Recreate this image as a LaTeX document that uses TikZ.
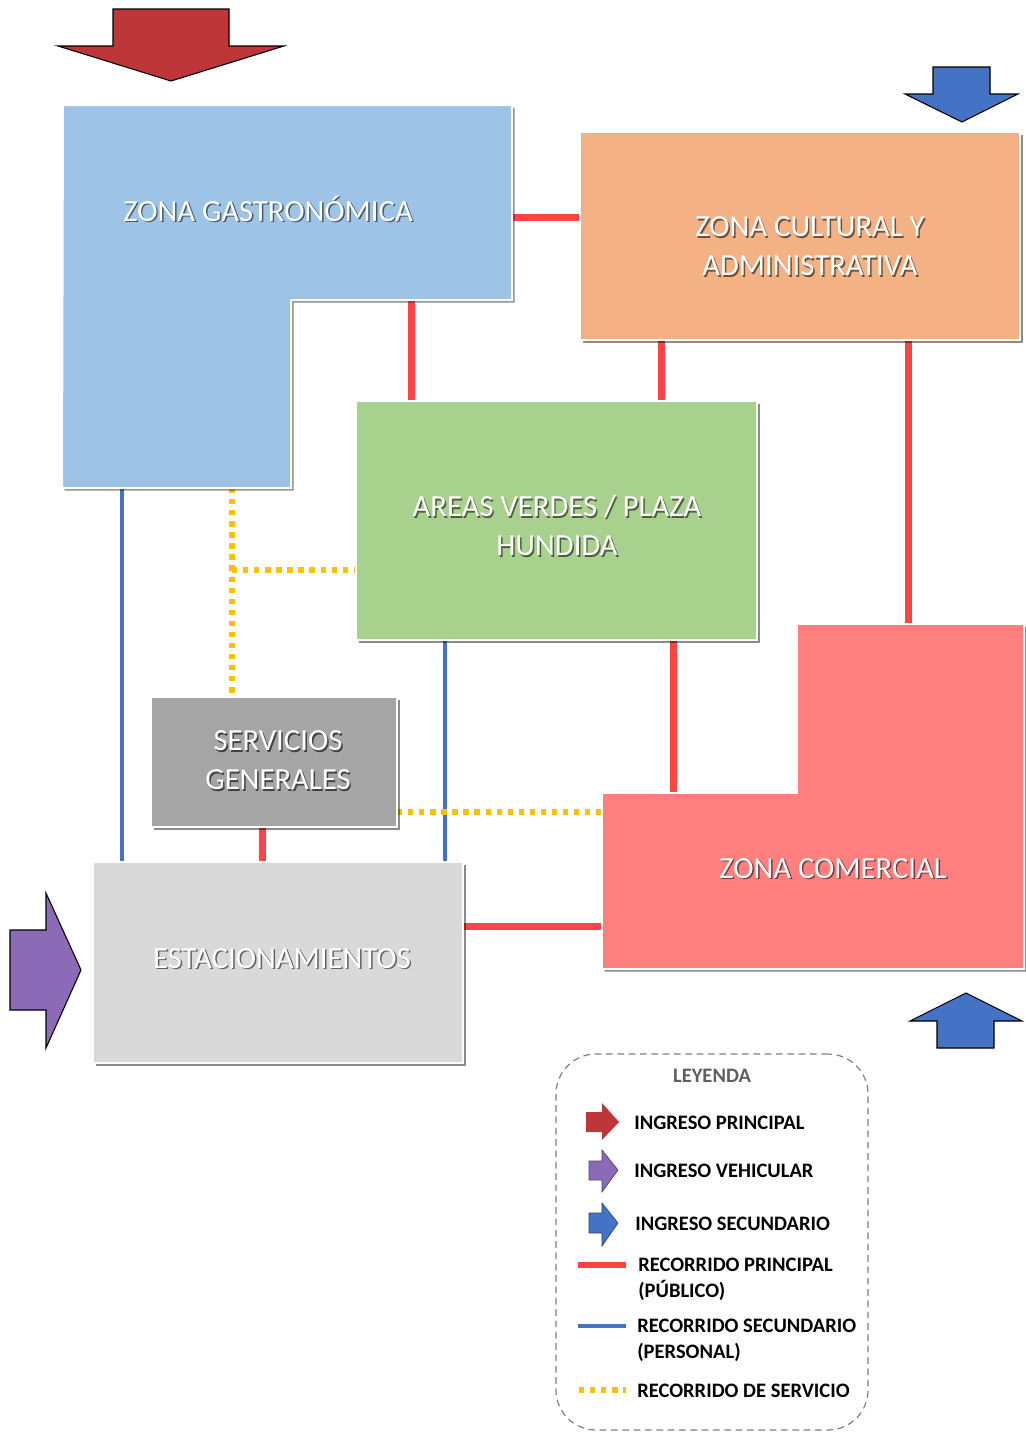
\documentclass[tikz,border=0pt]{standalone}
\usepackage{fontspec}
\setmainfont{Carlito}
\usetikzlibrary{shadows,calc,fit}
\pgfdeclarelayer{bg}
\pgfsetlayers{bg,main}
\definecolor{cGas}{HTML}{9DC3E6}
\definecolor{cCul}{HTML}{F4B183}
\definecolor{cVer}{HTML}{A9D18E}
\definecolor{cSer}{HTML}{A5A5A5}
\definecolor{cEst}{HTML}{D9D9D9}
\definecolor{cCom}{HTML}{FF7F7F}
\definecolor{cRedA}{HTML}{BE3638}
\definecolor{cBlueA}{HTML}{4472C4}
\definecolor{cPur}{HTML}{8B6BB8}
\definecolor{cRedL}{HTML}{FF4343}
\definecolor{cBlueL}{HTML}{4472C4}
\definecolor{cYel}{HTML}{FFC000}
\definecolor{cLegT}{HTML}{5F5F5F}
\newcommand\shtx[2]{\makebox[0pt][l]{\kern1.1pt\raisebox{-1.3pt}{\textcolor{#1}{#2}}}#2}
\begin{document}
\begin{tikzpicture}[x=0.75pt,y=-0.75pt,
  zone/.style={draw=white, line width=1.5pt,
    drop shadow={shadow xshift=2pt, shadow yshift=-2pt, opacity=0.45, fill=black}},
  zbox/.style={zone, rectangle, inner sep=0pt, outer sep=0pt},
  zt/.style={text=white, font=\fontsize{23}{29.25}\selectfont, align=center, inner sep=0pt},
  rl/.style={draw=cRedL, line width=5.25pt},
  bl/.style={draw=cBlueL, line width=3pt},
  yl/.style={draw=cYel, line width=4pt, dash pattern=on 4pt off 4.3pt},
  barrow/.style={draw=black, line width=0.8pt},
  legt/.style={font=\bfseries\fontsize{15.4}{19.5}\selectfont, text=black, align=left, inner sep=0pt, anchor=north west},
  legbox/.style={draw=black!50, dash pattern=on 5pt off 3.5pt, line width=0.9pt, rounded corners=30pt, inner sep=0pt, outer sep=0pt}
]
\useasboundingbox (0,0) rectangle (1025,1439);
\begin{pgfonlayer}{bg}
\fill[white] (0,0) rectangle (1025,1439);
\end{pgfonlayer}

% ---- entrance arrows
\path[barrow, fill=cRedA] (113,9) -- (229,9) -- (229,46) -- (284,46) -- (171,81) -- (58,46) -- (113,46) -- cycle;
\path[barrow, fill=cBlueA] (933,67) -- (990,67) -- (990,94) -- (1018,94) -- (962,122) -- (905,94) -- (933,94) -- cycle;
\path[barrow, fill=cBlueA] (966,993) -- (1022,1021) -- (994,1021) -- (994,1048) -- (937,1048) -- (937,1021) -- (910,1021) -- cycle;
\path[barrow, fill=cPur] (10,930) -- (46,930) -- (46,893) -- (81,970) -- (46,1048) -- (46,1010) -- (10,1010) -- cycle;

% ---- zones
\path[zone, fill=cGas] (63,105) -- (512,105) -- (512,300) -- (291,300) -- (291,488) -- (62,488) -- cycle;
\coordinate (gE) at (512,217);
\coordinate (gB1) at (411,300);
\coordinate (gB2) at (122,488);
\coordinate (gB3) at (232,488);
\coordinate (yj) at (232,570);

\node[zbox, fill=cCul, fit={(580,132) (1020,340)}] (cult) {};
\node[zbox, fill=cVer, fit={(356,401) (757,640)}] (areas) {};
\node[zbox, fill=cSer, fit={(151,697) (397,827)}] (serv) {};
\node[zbox, fill=cEst, fit={(93,862) (463,1063)}] (estac) {};

\path[zone, fill=cCom] (797,624) -- (1024,624) -- (1024,969) -- (602,969) -- (602,793) -- (797,793) -- cycle;
\coordinate (cT1) at (908,624);
\coordinate (cT2) at (673,793);
\coordinate (cW1) at (602,926);
\coordinate (cW2) at (602,812);

% ---- zone labels
\node[zt, anchor=base] (tGas) at (268,221) {\shtx{cGas!45!black}{ZONA GASTRONÓMICA}};
\node[zt] (tCul) at (810,247.5) {\shtx{cCul!45!black}{ZONA CULTURAL Y}\\\shtx{cCul!45!black}{ADMINISTRATIVA}};
\node[zt] (tVer) at (557,526.5) {\shtx{cVer!45!black}{AREAS VERDES / PLAZA}\\\shtx{cVer!45!black}{HUNDIDA}};
\node[zt] (tSer) at (278,761.5) {\shtx{cSer!40!black}{SERVICIOS}\\\shtx{cSer!40!black}{GENERALES}};
\node[zt, anchor=base] (tEst) at (282,968) {\shtx{cEst!45!black}{ESTACIONAMIENTOS}};
\node[zt, anchor=base] (tCom) at (833,878) {\shtx{cCom!45!black}{ZONA COMERCIAL}};

% ---- connectors (behind zones, above the white page)
\begin{pgfonlayer}{bg}
\draw[rl] (gE) -- (gE -| cult.west);
\draw[rl] (gB1) -- (gB1 |- areas.north);
\draw[rl] ($(cult.south west)+(81,0)$) -- ($(areas.north west)+(305,0)$);
\draw[rl] ($(cult.south west)+(328,0)$) -- (cT1);
\draw[rl] ($(areas.south west)+(317,0)$) -- (cT2);
\draw[rl] ($(serv.south west)+(111,0)$) -- ($(estac.north west)+(169,0)$);
\draw[rl] ($(estac.north east)+(0,64)$) -- (cW1);
\draw[bl] (gB2) -- (gB2 |- estac.north);
\draw[bl] ($(areas.south west)+(89,0)$) -- ($(estac.north west)+(352,0)$);
\draw[yl] (gB3) -- (gB3 |- serv.north);
\draw[yl] (yj) -- (yj -| areas.west);
\draw[yl] ($(serv.north east)+(0,115)$) -- (cW2);
\end{pgfonlayer}

% ---- legend
\node[legbox, fit={(556,1054) (868,1430)}] (leg) {};
\node[font=\bfseries\fontsize{15.4}{19.5}\selectfont, text=cLegT, inner sep=0pt, anchor=base] (legT) at (712,1082) {LEYENDA};

\path[fill=cRedA] (586,1112) -- (602,1112) -- (602,1103) -- (619,1122) -- (602,1140) -- (602,1132) -- (586,1132) -- cycle;
\path[fill=cPur, draw=cPur!60!black, line width=0.5pt] (589,1161) -- (602,1161) -- (602,1150) -- (618,1170) -- (602,1192) -- (602,1180) -- (589,1180) -- cycle;
\path[fill=cBlueA, draw=cBlueA!60!black, line width=0.5pt] (589,1213) -- (602,1213) -- (602,1203) -- (618,1223) -- (602,1246) -- (602,1233) -- (589,1233) -- cycle;

\node[legt] (l1) at (634,1115.5) {INGRESO PRINCIPAL};
\node[legt] (l2) at (634,1163.5) {INGRESO VEHICULAR};
\node[legt] (l3) at (635,1216.5) {INGRESO SECUNDARIO};
\node[legt] (l4) at (638,1257.5) {RECORRIDO PRINCIPAL\\(PÚBLICO)};
\node[legt] (l5) at (637,1318.5) {RECORRIDO SECUNDARIO\\(PERSONAL)};
\node[legt] (l6) at (637,1383.5) {RECORRIDO DE SERVICIO};

\coordinate (s1a) at (578,1265); \coordinate (s1b) at (626,1265);
\coordinate (s2a) at (578,1326); \coordinate (s2b) at (626,1326);
\coordinate (s3a) at (579,1390); \coordinate (s3b) at (626,1390);
\draw[draw=cRedL, line width=3.8pt] (s1a) -- (s1b);
\draw[bl] (s2a) -- (s2b);
\draw[yl] (s3a) -- (s3b);
\end{tikzpicture}
\end{document}
